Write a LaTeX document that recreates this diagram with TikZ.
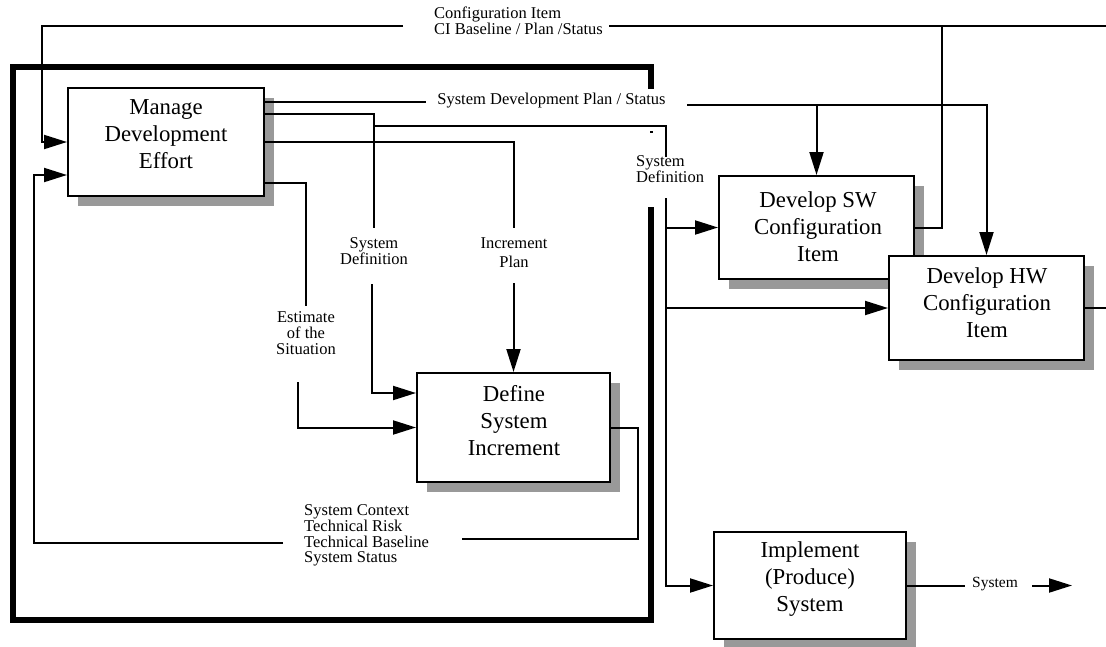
\documentclass[tikz,border=0pt]{standalone}
\usepackage{fontspec}
\setmainfont{Liberation Serif}
\usetikzlibrary{arrows.meta,shadows}
\definecolor{shade}{HTML}{999999}
\begin{document}
\begin{tikzpicture}[x=1pt,y=-1pt,
  wire/.style={line width=2pt},
  arr/.style={wire,-{Triangle[length=23pt,width=14pt]}},
  proc/.style={draw,line width=2pt,fill=white,inner sep=0pt,
     drop shadow={shadow xshift=10pt,shadow yshift=-10pt,fill=shade,opacity=1}},
  proctext/.style={align=center,font=\fontsize{22.8}{27}\selectfont,inner sep=0pt},
  lab/.style={align=center,font=\fontsize{16.5}{16}\selectfont,inner sep=0pt},
  frame/.style={line width=5.5pt}]
\useasboundingbox (0,0) rectangle (1106,646);

% process boxes
\node[proc,minimum width=196pt,minimum height=108pt] (manage) at (166,142) {};
\node[proctext] (manage-t) at (166,134) {Manage\\Development\\Effort};
\node[proc,minimum width=193pt,minimum height=109pt] (define) at (513.5,427.5) {};
\node[proctext] (define-t) at (514,421) {Define\\System\\Increment};
\node[proc,minimum width=195pt,minimum height=103pt] (sw) at (816.5,227.5) {};
\node[proctext] (sw-t) at (818,227) {Develop SW\\Configuration\\Item};
\node[proc,minimum width=195pt,minimum height=104pt] (hw) at (986.5,308) {};
\node[proctext] (hw-t) at (987,303) {Develop HW\\Configuration\\Item};
\node[proc,minimum width=192pt,minimum height=107pt] (impl) at (810,585.5) {};
\node[proctext] (impl-t) at (810,579.5) {Implement\\(Produce)\\System};

% frame
\draw[frame] (651,89) -- (651,67) -- (13,67) -- (13,620) -- (651,620) -- (651,207);
\fill (650,130.5) rectangle (652.5,133);

% labels
\node[lab,anchor=west,align=left,font=\fontsize{16.5}{15}\selectfont] (cilab) at (434,21) {Configuration Item\\CI Baseline / Plan /Status};
\node[lab] (sdplab) at (551.5,101) {System Development Plan / Status};
\node[lab] (sdlab1) at (374,251) {System\\Definition};
\node[lab,anchor=west,align=left] (sdlab2) at (636,169.5) {System\\Definition};
\node[lab,font=\fontsize{16.5}{18.5}\selectfont] (iplab) at (514,252.5) {Increment\\Plan};
\node[lab] (estlab) at (306,333) {Estimate\\of the\\Situation};
\node[lab,anchor=west,align=left,font=\fontsize{16.5}{15.7}\selectfont] (fblab) at (304,535.5) {System Context\\Technical Risk\\Technical Baseline\\System Status};
\node[lab,font=\fontsize{15.5}{15}\selectfont] (syslab) at (995,584) {System};

% connectors
\coordinate (ciR) at (1106,26);
\draw[wire] (ciR) -- (609,26);
\draw[arr] (403,26) -| (42,142) -- (manage.west);
\draw[wire] (sw.east) -| (942,26);

\draw[wire] (manage.east |- 0,102) -- (426,102);
\draw[arr] (687,105) -| (hw.north);
\draw[arr] (sw.north |- 0,105) -- (sw.north);

\draw[wire] (manage.east |- 0,114) -| (374,228);
\draw[arr] (372,284) |- (define.west |- 0,393);
\draw[wire] (374,126) -| (666,157);
\draw[arr] (666,198) |- (impl.west);
\draw[arr] (sw.west -| 666,0) -- (sw.west);
\draw[arr] (hw.west -| 666,0) -- (hw.west);

\draw[wire] (manage.east) -| (514,228);
\draw[arr] (define.north |- 0,283) -- (define.north);

\draw[wire] (manage.east |- 0,183) -| (306,306);
\draw[arr] (298,382) |- (define.west);

\draw[wire] (define.east) -| (638,539) -- (462,539);
\draw[arr] (283,543) -| (34,175) -- (manage.west |- 0,175);

\draw[wire] (impl.east) -- (965,585.5);
\coordinate (sysend) at (1072,585.5);
\draw[arr] (1032,585.5) -- (sysend);

\coordinate (hwR) at (1106,308);
\draw[wire] (hw.east) -- (hwR);
\end{tikzpicture}
\end{document}
